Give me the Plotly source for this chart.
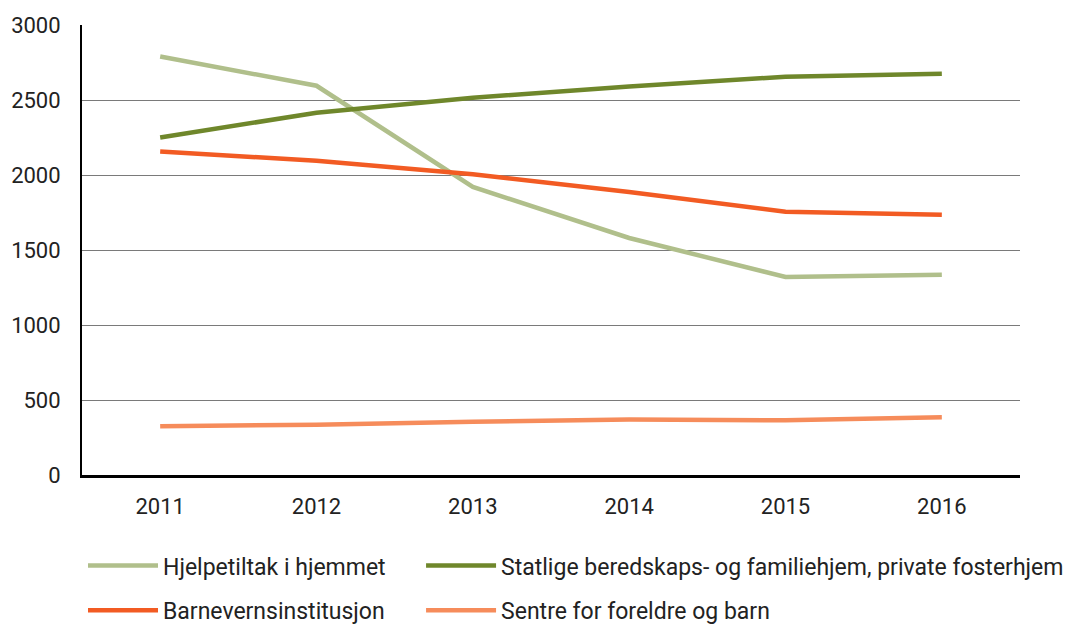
#!/usr/bin/env python3
"""Barnevern: tiltak per år, 2011-2016."""

import plotly.graph_objects as go

years = ['2011', '2012', '2013', '2014', '2015', '2016']

hjelpetiltak = [2790, 2595, 1920, 1580, 1320, 1335]
statlige = [2250, 2415, 2515, 2590, 2655, 2675]
barnevern = [2157, 2095, 2005, 1887, 1755, 1735]
sentre = [325, 335, 355, 370, 365, 385]

series = [
    ('Hjelpetiltak i hjemmet', hjelpetiltak, '#b0bf8b', 'legend'),
    ('Statlige beredskaps- og familiehjem, private fosterhjem', statlige, '#6f872b', 'legend2'),
    ('Barnevernsinstitusjon', barnevern, '#f25b23', 'legend3'),
    ('Sentre for foreldre og barn', sentre, '#f68c5b', 'legend4'),
]

y_ticks = [0, 500, 1000, 1500, 2000, 2500, 3000]

FONT = 'Roboto'
TEXT_COLOR = '#222222'

fig = go.Figure()

for name, values, color, legend_id in series:
    fig.add_trace(
        go.Scatter(
            x=years,
            y=values,
            name=name,
            mode='lines',
            line=dict(color=color, width=4.5),
            legend=legend_id,
        )
    )


def legend_box(x, y):
    # one legend per entry so the two-column grid can be placed exactly
    return dict(
        xref='container', yref='container',
        x=x, y=y, xanchor='left', yanchor='middle',
        orientation='h',
        itemwidth=70,
        bgcolor='rgba(0,0,0,0)',
        font=dict(family=FONT, size=23, color=TEXT_COLOR),
    )


fig.update_layout(
    width=1087,
    height=628,
    margin=dict(l=74, r=75, t=17, b=161),
    paper_bgcolor='white',
    plot_bgcolor='white',
    font=dict(family=FONT, size=22, color=TEXT_COLOR),
    showlegend=True,
    legend=legend_box(0.069, 0.112),
    legend2=legend_box(0.380, 0.112),
    legend3=legend_box(0.069, 0.041),
    legend4=legend_box(0.380, 0.041),
)

fig.update_xaxes(
    type='category',
    range=[-0.5, 5.5],
    automargin=False,
    showline=True,
    linecolor='black',
    linewidth=2.5,
    showgrid=False,
    ticks='',
    ticklabelstandoff=10,
    tickfont=dict(family=FONT, size=22, color=TEXT_COLOR),
)

fig.update_yaxes(
    range=[0, 3000],
    tickvals=y_ticks,
    automargin=False,
    showline=True,
    linecolor='black',
    linewidth=2,
    showgrid=True,
    gridcolor='#7a7a7a',
    gridwidth=1,
    zeroline=False,
    ticks='',
    ticklabelstandoff=15,
    tickfont=dict(family=FONT, size=22, color=TEXT_COLOR),
)

fig.write_html('out.html')
